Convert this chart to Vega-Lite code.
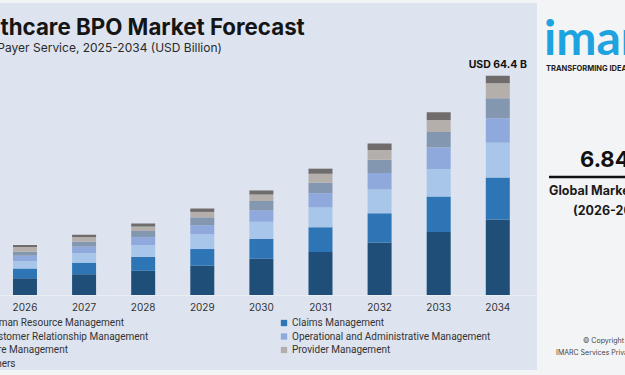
{
  "$schema": "https://vega.github.io/schema/vega-lite/v6.json",
  "width": 537,
  "height": 367,
  "autosize": {"type": "none"},
  "padding": {"left": 0, "top": 3, "right": 88, "bottom": 5},
  "background": "#f3f4f6",
  "config": {"view": {"fill": "#dde4ef", "stroke": null}, "font": "Inter"},
  "title": {
    "text": "Healthcare BPO Market Forecast",
    "subtitle": "Market: Payer Service, 2025-2034 (USD Billion)",
    "anchor": "start",
    "frame": "group",
    "dx": -49,
    "offset": -51,
    "font": "Inter",
    "fontSize": 22.3,
    "fontWeight": "bold",
    "color": "#151515",
    "subtitleFont": "Inter",
    "subtitleFontSize": 12,
    "subtitleColor": "#2a2a2a",
    "subtitlePadding": 4
  },
  "layer": [
    {
      "data": {
        "values": [
          {"year": "2026", "Human Resource Management": 4.9, "Claims Management": 2.9, "Customer Relationship Management": 2.1, "Operational and Administrative Management": 1.6, "Care Management": 1.2, "Provider Management": 1.4, "Others": 0.6},
          {"year": "2027", "Human Resource Management": 6.1, "Claims Management": 3.4, "Customer Relationship Management": 2.8, "Operational and Administrative Management": 1.9, "Care Management": 1.5, "Provider Management": 1.3, "Others": 0.7},
          {"year": "2028", "Human Resource Management": 7.1, "Claims Management": 4.1, "Customer Relationship Management": 3.4, "Operational and Administrative Management": 2.4, "Care Management": 1.8, "Provider Management": 1.3, "Others": 0.9},
          {"year": "2029", "Human Resource Management": 8.6, "Claims Management": 4.9, "Customer Relationship Management": 4.3, "Operational and Administrative Management": 2.7, "Care Management": 2.3, "Provider Management": 1.6, "Others": 1.0},
          {"year": "2030", "Human Resource Management": 10.7, "Claims Management": 5.8, "Customer Relationship Management": 5.0, "Operational and Administrative Management": 3.3, "Care Management": 2.8, "Provider Management": 1.9, "Others": 1.2},
          {"year": "2031", "Human Resource Management": 12.6, "Claims Management": 7.3, "Customer Relationship Management": 5.8, "Operational and Administrative Management": 4.2, "Care Management": 3.1, "Provider Management": 2.6, "Others": 1.5},
          {"year": "2032", "Human Resource Management": 15.4, "Claims Management": 8.6, "Customer Relationship Management": 7.0, "Operational and Administrative Management": 4.8, "Care Management": 3.9, "Provider Management": 2.9, "Others": 1.9},
          {"year": "2033", "Human Resource Management": 18.5, "Claims Management": 10.4, "Customer Relationship Management": 8.1, "Operational and Administrative Management": 6.3, "Care Management": 4.6, "Provider Management": 3.5, "Others": 2.3},
          {"year": "2034", "Human Resource Management": 22.2, "Claims Management": 12.3, "Customer Relationship Management": 10.2, "Operational and Administrative Management": 7.2, "Care Management": 5.9, "Provider Management": 4.4, "Others": 2.2}
        ]
      },
      "transform": [
        {"fold": ["Human Resource Management", "Claims Management", "Customer Relationship Management", "Operational and Administrative Management", "Care Management", "Provider Management", "Others"], "as": ["segment", "value"]},
        {"window": [{"op": "row_number", "as": "rank"}], "groupby": ["year"]}
      ],
      "mark": {"type": "bar"},
      "encoding": {
        "x": {
          "field": "year",
          "type": "ordinal",
          "scale": {"paddingInner": 0.594, "paddingOuter": 0.34, "align": 0.323, "round": false},
          "axis": {"title": null, "orient": "bottom", "offset": -75, "domain": true, "domainColor": "#e9eef5", "ticks": false, "labelPadding": 7, "labelFont": "Inter", "labelFontSize": 10, "labelColor": "#333333", "labelAngle": 0, "grid": false}
        },
        "y": {
          "field": "value",
          "type": "quantitative",
          "stack": "zero",
          "scale": {"domain": [-22.03, 85.76], "nice": false, "zero": false},
          "axis": null
        },
        "order": {"field": "rank", "type": "quantitative", "sort": "ascending"},
        "color": {
          "field": "segment",
          "type": "nominal",
          "scale": {
            "domain": ["Human Resource Management", "Claims Management", "Customer Relationship Management", "Operational and Administrative Management", "Care Management", "Provider Management", "Others"],
            "range": ["#1f4e79", "#2e75b6", "#a7c6ea", "#8fa9dc", "#8497b0", "#b5afac", "#706c6c"]
          },
          "legend": {
            "orient": "none",
            "direction": "horizontal",
            "legendX": -27,
            "legendY": 315,
            "title": null,
            "columns": 2,
            "symbolType": "square",
            "symbolSize": 40,
            "symbolStrokeWidth": 0,
            "labelFont": "Roboto",
            "labelFontSize": 10,
            "labelColor": "#333333",
            "columnPadding": 130,
            "rowPadding": 3.5,
            "labelOffset": 3,
            "padding": 0,
            "labelLimit": 300
          }
        }
      }
    },
    {
      "data": {"values": [{"year": "2034", "total": 64.4, "label": "USD 64.4 B"}]},
      "mark": {"type": "text", "font": "Inter", "fontSize": 10.5, "fontWeight": "bold", "color": "#111111", "baseline": "bottom", "dy": -6},
      "encoding": {
        "x": {"field": "year", "type": "ordinal"},
        "y": {"field": "total", "type": "quantitative"},
        "text": {"field": "label"}
      }
    },
    {
      "data": {"values": [{"t": "imarc"}]},
      "mark": {"type": "text", "font": "Lato", "fontSize": 48, "fontWeight": "bold", "color": "#1ca3e0", "align": "left", "baseline": "alphabetic"},
      "encoding": {"x": {"value": 544}, "y": {"value": 52}, "text": {"field": "t"}}
    },
    {
      "data": {"values": [{"t": "TRANSFORMING IDEAS INTO IMPACT"}]},
      "mark": {"type": "text", "font": "Inter", "fontSize": 7.5, "fontWeight": "bold", "color": "#222222", "align": "left", "baseline": "middle"},
      "encoding": {"x": {"value": 546}, "y": {"value": 66}, "text": {"field": "t"}}
    },
    {
      "data": {"values": [{"t": "6.84%"}]},
      "mark": {"type": "text", "font": "Inter", "fontSize": 22, "fontWeight": "bold", "color": "#111111", "align": "left", "baseline": "middle"},
      "encoding": {"x": {"value": 580}, "y": {"value": 157}, "text": {"field": "t"}}
    },
    {
      "data": {"values": [{"t": "line"}]},
      "mark": {"type": "rule", "color": "#111111", "strokeWidth": 2.5},
      "encoding": {"x": {"value": 549}, "x2": {"value": 660}, "y": {"value": 174}}
    },
    {
      "data": {"values": [{"t": "Global Market Growth Rate"}]},
      "mark": {"type": "text", "font": "Inter", "fontSize": 12.5, "fontWeight": "bold", "color": "#1a1a1a", "align": "left", "baseline": "middle"},
      "encoding": {"x": {"value": 549}, "y": {"value": 188}, "text": {"field": "t"}}
    },
    {
      "data": {"values": [{"t": "(2026-2034)"}]},
      "mark": {"type": "text", "font": "Inter", "fontSize": 12.5, "fontWeight": "bold", "color": "#1a1a1a", "align": "left", "baseline": "middle"},
      "encoding": {"x": {"value": 573}, "y": {"value": 208}, "text": {"field": "t"}}
    },
    {
      "data": {"values": [{"t": "© Copyright IMARC"}]},
      "mark": {"type": "text", "font": "Inter", "fontSize": 7, "color": "#444444", "align": "left", "baseline": "middle"},
      "encoding": {"x": {"value": 583}, "y": {"value": 338}, "text": {"field": "t"}}
    },
    {
      "data": {"values": [{"t": "IMARC Services Private Limited."}]},
      "mark": {"type": "text", "font": "Inter", "fontSize": 7, "color": "#444444", "align": "left", "baseline": "middle"},
      "encoding": {"x": {"value": 556}, "y": {"value": 350}, "text": {"field": "t"}}
    }
  ]
}
